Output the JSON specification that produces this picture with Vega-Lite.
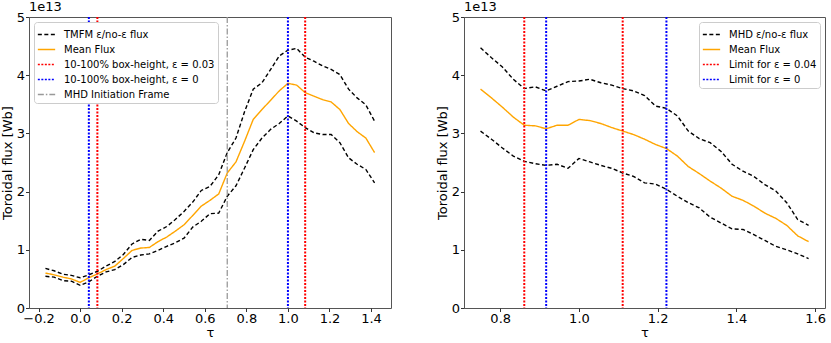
{
  "$schema": "https://vega.github.io/schema/vega-lite/v6.json",
  "padding": {"left": 0, "right": 0, "top": 0, "bottom": 0},
  "spacing": 43,
  "config": {
    "font": "DejaVu Sans",
    "view": {"stroke": "#555555", "strokeWidth": 1},
    "axis": {"grid": false, "domain": false, "tickColor": "#333333", "tickSize": 3.5, "labelFontSize": 13, "titleFontSize": 13, "labelColor": "black", "titleColor": "black", "titleFontWeight": "normal", "labelPadding": 1, "titlePadding": 2},
    "axisX": {"labelPadding": 0.5, "titlePadding": 1},
    "legend": {"fillColor": "white", "strokeColor": "#cccccc", "cornerRadius": 3, "padding": 3, "labelFontSize": 10, "labelColor": "black", "labelLimit": 300, "symbolType": "stroke", "symbolSize": 300, "symbolStrokeWidth": 1.6, "offset": 5, "title": null, "rowPadding": 0, "labelOffset": 8},
    "title": {"fontSize": 13, "fontWeight": "normal", "anchor": "start", "offset": -3, "color": "black", "frame": "group"}
  },
  "datasets": {
    "left_curves": [
      {"tau": -0.167, "flux": 0.68, "series": "TMFM ε/no-ε flux", "curve": "upper"},
      {"tau": -0.125, "flux": 0.64, "series": "TMFM ε/no-ε flux", "curve": "upper"},
      {"tau": -0.083, "flux": 0.58, "series": "TMFM ε/no-ε flux", "curve": "upper"},
      {"tau": -0.042, "flux": 0.56, "series": "TMFM ε/no-ε flux", "curve": "upper"},
      {"tau": 0.0, "flux": 0.52, "series": "TMFM ε/no-ε flux", "curve": "upper"},
      {"tau": 0.042, "flux": 0.57, "series": "TMFM ε/no-ε flux", "curve": "upper"},
      {"tau": 0.083, "flux": 0.63, "series": "TMFM ε/no-ε flux", "curve": "upper"},
      {"tau": 0.125, "flux": 0.72, "series": "TMFM ε/no-ε flux", "curve": "upper"},
      {"tau": 0.167, "flux": 0.8, "series": "TMFM ε/no-ε flux", "curve": "upper"},
      {"tau": 0.208, "flux": 0.92, "series": "TMFM ε/no-ε flux", "curve": "upper"},
      {"tau": 0.25, "flux": 1.1, "series": "TMFM ε/no-ε flux", "curve": "upper"},
      {"tau": 0.292, "flux": 1.18, "series": "TMFM ε/no-ε flux", "curve": "upper"},
      {"tau": 0.333, "flux": 1.16, "series": "TMFM ε/no-ε flux", "curve": "upper"},
      {"tau": 0.375, "flux": 1.32, "series": "TMFM ε/no-ε flux", "curve": "upper"},
      {"tau": 0.417, "flux": 1.4, "series": "TMFM ε/no-ε flux", "curve": "upper"},
      {"tau": 0.458, "flux": 1.52, "series": "TMFM ε/no-ε flux", "curve": "upper"},
      {"tau": 0.5, "flux": 1.66, "series": "TMFM ε/no-ε flux", "curve": "upper"},
      {"tau": 0.542, "flux": 1.82, "series": "TMFM ε/no-ε flux", "curve": "upper"},
      {"tau": 0.583, "flux": 2.02, "series": "TMFM ε/no-ε flux", "curve": "upper"},
      {"tau": 0.625, "flux": 2.09, "series": "TMFM ε/no-ε flux", "curve": "upper"},
      {"tau": 0.667, "flux": 2.29, "series": "TMFM ε/no-ε flux", "curve": "upper"},
      {"tau": 0.708, "flux": 2.67, "series": "TMFM ε/no-ε flux", "curve": "upper"},
      {"tau": 0.75, "flux": 2.92, "series": "TMFM ε/no-ε flux", "curve": "upper"},
      {"tau": 0.792, "flux": 3.38, "series": "TMFM ε/no-ε flux", "curve": "upper"},
      {"tau": 0.833, "flux": 3.76, "series": "TMFM ε/no-ε flux", "curve": "upper"},
      {"tau": 0.875, "flux": 3.87, "series": "TMFM ε/no-ε flux", "curve": "upper"},
      {"tau": 0.917, "flux": 4.1, "series": "TMFM ε/no-ε flux", "curve": "upper"},
      {"tau": 0.958, "flux": 4.33, "series": "TMFM ε/no-ε flux", "curve": "upper"},
      {"tau": 1.0, "flux": 4.43, "series": "TMFM ε/no-ε flux", "curve": "upper"},
      {"tau": 1.042, "flux": 4.46, "series": "TMFM ε/no-ε flux", "curve": "upper"},
      {"tau": 1.083, "flux": 4.31, "series": "TMFM ε/no-ε flux", "curve": "upper"},
      {"tau": 1.125, "flux": 4.24, "series": "TMFM ε/no-ε flux", "curve": "upper"},
      {"tau": 1.167, "flux": 4.16, "series": "TMFM ε/no-ε flux", "curve": "upper"},
      {"tau": 1.208, "flux": 4.1, "series": "TMFM ε/no-ε flux", "curve": "upper"},
      {"tau": 1.25, "flux": 4.01, "series": "TMFM ε/no-ε flux", "curve": "upper"},
      {"tau": 1.292, "flux": 3.76, "series": "TMFM ε/no-ε flux", "curve": "upper"},
      {"tau": 1.333, "flux": 3.61, "series": "TMFM ε/no-ε flux", "curve": "upper"},
      {"tau": 1.375, "flux": 3.49, "series": "TMFM ε/no-ε flux", "curve": "upper"},
      {"tau": 1.417, "flux": 3.21, "series": "TMFM ε/no-ε flux", "curve": "upper"},
      {"tau": -0.167, "flux": 0.6, "series": "Mean Flux", "curve": "mean"},
      {"tau": -0.125, "flux": 0.57, "series": "Mean Flux", "curve": "mean"},
      {"tau": -0.083, "flux": 0.53, "series": "Mean Flux", "curve": "mean"},
      {"tau": -0.042, "flux": 0.5, "series": "Mean Flux", "curve": "mean"},
      {"tau": 0.0, "flux": 0.44, "series": "Mean Flux", "curve": "mean"},
      {"tau": 0.042, "flux": 0.52, "series": "Mean Flux", "curve": "mean"},
      {"tau": 0.083, "flux": 0.585, "series": "Mean Flux", "curve": "mean"},
      {"tau": 0.125, "flux": 0.66, "series": "Mean Flux", "curve": "mean"},
      {"tau": 0.167, "flux": 0.72, "series": "Mean Flux", "curve": "mean"},
      {"tau": 0.208, "flux": 0.85, "series": "Mean Flux", "curve": "mean"},
      {"tau": 0.25, "flux": 0.99, "series": "Mean Flux", "curve": "mean"},
      {"tau": 0.292, "flux": 1.03, "series": "Mean Flux", "curve": "mean"},
      {"tau": 0.333, "flux": 1.04, "series": "Mean Flux", "curve": "mean"},
      {"tau": 0.375, "flux": 1.14, "series": "Mean Flux", "curve": "mean"},
      {"tau": 0.417, "flux": 1.22, "series": "Mean Flux", "curve": "mean"},
      {"tau": 0.458, "flux": 1.32, "series": "Mean Flux", "curve": "mean"},
      {"tau": 0.5, "flux": 1.43, "series": "Mean Flux", "curve": "mean"},
      {"tau": 0.542, "flux": 1.59, "series": "Mean Flux", "curve": "mean"},
      {"tau": 0.583, "flux": 1.75, "series": "Mean Flux", "curve": "mean"},
      {"tau": 0.625, "flux": 1.85, "series": "Mean Flux", "curve": "mean"},
      {"tau": 0.667, "flux": 1.96, "series": "Mean Flux", "curve": "mean"},
      {"tau": 0.708, "flux": 2.32, "series": "Mean Flux", "curve": "mean"},
      {"tau": 0.75, "flux": 2.51, "series": "Mean Flux", "curve": "mean"},
      {"tau": 0.792, "flux": 2.87, "series": "Mean Flux", "curve": "mean"},
      {"tau": 0.833, "flux": 3.24, "series": "Mean Flux", "curve": "mean"},
      {"tau": 0.875, "flux": 3.41, "series": "Mean Flux", "curve": "mean"},
      {"tau": 0.917, "flux": 3.57, "series": "Mean Flux", "curve": "mean"},
      {"tau": 0.958, "flux": 3.73, "series": "Mean Flux", "curve": "mean"},
      {"tau": 1.0, "flux": 3.86, "series": "Mean Flux", "curve": "mean"},
      {"tau": 1.042, "flux": 3.83, "series": "Mean Flux", "curve": "mean"},
      {"tau": 1.083, "flux": 3.7, "series": "Mean Flux", "curve": "mean"},
      {"tau": 1.125, "flux": 3.64, "series": "Mean Flux", "curve": "mean"},
      {"tau": 1.167, "flux": 3.58, "series": "Mean Flux", "curve": "mean"},
      {"tau": 1.208, "flux": 3.54, "series": "Mean Flux", "curve": "mean"},
      {"tau": 1.25, "flux": 3.41, "series": "Mean Flux", "curve": "mean"},
      {"tau": 1.292, "flux": 3.17, "series": "Mean Flux", "curve": "mean"},
      {"tau": 1.333, "flux": 3.03, "series": "Mean Flux", "curve": "mean"},
      {"tau": 1.375, "flux": 2.92, "series": "Mean Flux", "curve": "mean"},
      {"tau": 1.417, "flux": 2.67, "series": "Mean Flux", "curve": "mean"},
      {"tau": -0.167, "flux": 0.545, "series": "TMFM ε/no-ε flux", "curve": "lower"},
      {"tau": -0.125, "flux": 0.53, "series": "TMFM ε/no-ε flux", "curve": "lower"},
      {"tau": -0.083, "flux": 0.47, "series": "TMFM ε/no-ε flux", "curve": "lower"},
      {"tau": -0.042, "flux": 0.46, "series": "TMFM ε/no-ε flux", "curve": "lower"},
      {"tau": 0.0, "flux": 0.39, "series": "TMFM ε/no-ε flux", "curve": "lower"},
      {"tau": 0.042, "flux": 0.45, "series": "TMFM ε/no-ε flux", "curve": "lower"},
      {"tau": 0.083, "flux": 0.545, "series": "TMFM ε/no-ε flux", "curve": "lower"},
      {"tau": 0.125, "flux": 0.62, "series": "TMFM ε/no-ε flux", "curve": "lower"},
      {"tau": 0.167, "flux": 0.66, "series": "TMFM ε/no-ε flux", "curve": "lower"},
      {"tau": 0.208, "flux": 0.745, "series": "TMFM ε/no-ε flux", "curve": "lower"},
      {"tau": 0.25, "flux": 0.87, "series": "TMFM ε/no-ε flux", "curve": "lower"},
      {"tau": 0.292, "flux": 0.91, "series": "TMFM ε/no-ε flux", "curve": "lower"},
      {"tau": 0.333, "flux": 0.93, "series": "TMFM ε/no-ε flux", "curve": "lower"},
      {"tau": 0.375, "flux": 0.99, "series": "TMFM ε/no-ε flux", "curve": "lower"},
      {"tau": 0.417, "flux": 1.06, "series": "TMFM ε/no-ε flux", "curve": "lower"},
      {"tau": 0.458, "flux": 1.12, "series": "TMFM ε/no-ε flux", "curve": "lower"},
      {"tau": 0.5, "flux": 1.2, "series": "TMFM ε/no-ε flux", "curve": "lower"},
      {"tau": 0.542, "flux": 1.39, "series": "TMFM ε/no-ε flux", "curve": "lower"},
      {"tau": 0.583, "flux": 1.49, "series": "TMFM ε/no-ε flux", "curve": "lower"},
      {"tau": 0.625, "flux": 1.62, "series": "TMFM ε/no-ε flux", "curve": "lower"},
      {"tau": 0.667, "flux": 1.63, "series": "TMFM ε/no-ε flux", "curve": "lower"},
      {"tau": 0.708, "flux": 1.92, "series": "TMFM ε/no-ε flux", "curve": "lower"},
      {"tau": 0.75, "flux": 2.1, "series": "TMFM ε/no-ε flux", "curve": "lower"},
      {"tau": 0.792, "flux": 2.41, "series": "TMFM ε/no-ε flux", "curve": "lower"},
      {"tau": 0.833, "flux": 2.72, "series": "TMFM ε/no-ε flux", "curve": "lower"},
      {"tau": 0.875, "flux": 2.92, "series": "TMFM ε/no-ε flux", "curve": "lower"},
      {"tau": 0.917, "flux": 3.07, "series": "TMFM ε/no-ε flux", "curve": "lower"},
      {"tau": 0.958, "flux": 3.17, "series": "TMFM ε/no-ε flux", "curve": "lower"},
      {"tau": 1.0, "flux": 3.3, "series": "TMFM ε/no-ε flux", "curve": "lower"},
      {"tau": 1.042, "flux": 3.21, "series": "TMFM ε/no-ε flux", "curve": "lower"},
      {"tau": 1.083, "flux": 3.1, "series": "TMFM ε/no-ε flux", "curve": "lower"},
      {"tau": 1.125, "flux": 3.01, "series": "TMFM ε/no-ε flux", "curve": "lower"},
      {"tau": 1.167, "flux": 2.98, "series": "TMFM ε/no-ε flux", "curve": "lower"},
      {"tau": 1.208, "flux": 2.98, "series": "TMFM ε/no-ε flux", "curve": "lower"},
      {"tau": 1.25, "flux": 2.84, "series": "TMFM ε/no-ε flux", "curve": "lower"},
      {"tau": 1.292, "flux": 2.58, "series": "TMFM ε/no-ε flux", "curve": "lower"},
      {"tau": 1.333, "flux": 2.47, "series": "TMFM ε/no-ε flux", "curve": "lower"},
      {"tau": 1.375, "flux": 2.38, "series": "TMFM ε/no-ε flux", "curve": "lower"},
      {"tau": 1.417, "flux": 2.15, "series": "TMFM ε/no-ε flux", "curve": "lower"}
    ],
    "left_vlines": [
      {"tau": 0.042, "series": "10-100% box-height, ε = 0"},
      {"tau": 0.083, "series": "10-100% box-height, ε = 0.03"},
      {"tau": 1.0, "series": "10-100% box-height, ε = 0"},
      {"tau": 1.083, "series": "10-100% box-height, ε = 0.03"},
      {"tau": 0.708, "series": "MHD Initiation Frame"}
    ],
    "right_curves": [
      {"tau": 0.75, "flux": 4.47, "series": "MHD ε/no-ε flux", "curve": "upper"},
      {"tau": 0.7778, "flux": 4.3, "series": "MHD ε/no-ε flux", "curve": "upper"},
      {"tau": 0.8056, "flux": 4.14, "series": "MHD ε/no-ε flux", "curve": "upper"},
      {"tau": 0.8333, "flux": 3.93, "series": "MHD ε/no-ε flux", "curve": "upper"},
      {"tau": 0.8611, "flux": 3.77, "series": "MHD ε/no-ε flux", "curve": "upper"},
      {"tau": 0.8889, "flux": 3.8, "series": "MHD ε/no-ε flux", "curve": "upper"},
      {"tau": 0.9167, "flux": 3.73, "series": "MHD ε/no-ε flux", "curve": "upper"},
      {"tau": 0.9444, "flux": 3.81, "series": "MHD ε/no-ε flux", "curve": "upper"},
      {"tau": 0.9722, "flux": 3.89, "series": "MHD ε/no-ε flux", "curve": "upper"},
      {"tau": 1.0, "flux": 3.9, "series": "MHD ε/no-ε flux", "curve": "upper"},
      {"tau": 1.0278, "flux": 3.93, "series": "MHD ε/no-ε flux", "curve": "upper"},
      {"tau": 1.0556, "flux": 3.87, "series": "MHD ε/no-ε flux", "curve": "upper"},
      {"tau": 1.0833, "flux": 3.83, "series": "MHD ε/no-ε flux", "curve": "upper"},
      {"tau": 1.1111, "flux": 3.77, "series": "MHD ε/no-ε flux", "curve": "upper"},
      {"tau": 1.1389, "flux": 3.73, "series": "MHD ε/no-ε flux", "curve": "upper"},
      {"tau": 1.1667, "flux": 3.65, "series": "MHD ε/no-ε flux", "curve": "upper"},
      {"tau": 1.1944, "flux": 3.47, "series": "MHD ε/no-ε flux", "curve": "upper"},
      {"tau": 1.2222, "flux": 3.43, "series": "MHD ε/no-ε flux", "curve": "upper"},
      {"tau": 1.25, "flux": 3.3, "series": "MHD ε/no-ε flux", "curve": "upper"},
      {"tau": 1.2778, "flux": 3.04, "series": "MHD ε/no-ε flux", "curve": "upper"},
      {"tau": 1.3056, "flux": 2.91, "series": "MHD ε/no-ε flux", "curve": "upper"},
      {"tau": 1.3333, "flux": 2.84, "series": "MHD ε/no-ε flux", "curve": "upper"},
      {"tau": 1.3611, "flux": 2.69, "series": "MHD ε/no-ε flux", "curve": "upper"},
      {"tau": 1.3889, "flux": 2.47, "series": "MHD ε/no-ε flux", "curve": "upper"},
      {"tau": 1.4167, "flux": 2.35, "series": "MHD ε/no-ε flux", "curve": "upper"},
      {"tau": 1.4444, "flux": 2.26, "series": "MHD ε/no-ε flux", "curve": "upper"},
      {"tau": 1.4722, "flux": 2.12, "series": "MHD ε/no-ε flux", "curve": "upper"},
      {"tau": 1.5, "flux": 2.01, "series": "MHD ε/no-ε flux", "curve": "upper"},
      {"tau": 1.5278, "flux": 1.81, "series": "MHD ε/no-ε flux", "curve": "upper"},
      {"tau": 1.5556, "flux": 1.52, "series": "MHD ε/no-ε flux", "curve": "upper"},
      {"tau": 1.5833, "flux": 1.42, "series": "MHD ε/no-ε flux", "curve": "upper"},
      {"tau": 0.75, "flux": 3.76, "series": "Mean Flux", "curve": "mean"},
      {"tau": 0.7778, "flux": 3.61, "series": "Mean Flux", "curve": "mean"},
      {"tau": 0.8056, "flux": 3.45, "series": "Mean Flux", "curve": "mean"},
      {"tau": 0.8333, "flux": 3.28, "series": "Mean Flux", "curve": "mean"},
      {"tau": 0.8611, "flux": 3.14, "series": "Mean Flux", "curve": "mean"},
      {"tau": 0.8889, "flux": 3.13, "series": "Mean Flux", "curve": "mean"},
      {"tau": 0.9167, "flux": 3.08, "series": "Mean Flux", "curve": "mean"},
      {"tau": 0.9444, "flux": 3.14, "series": "Mean Flux", "curve": "mean"},
      {"tau": 0.9722, "flux": 3.14, "series": "Mean Flux", "curve": "mean"},
      {"tau": 1.0, "flux": 3.24, "series": "Mean Flux", "curve": "mean"},
      {"tau": 1.0278, "flux": 3.22, "series": "Mean Flux", "curve": "mean"},
      {"tau": 1.0556, "flux": 3.17, "series": "Mean Flux", "curve": "mean"},
      {"tau": 1.0833, "flux": 3.1, "series": "Mean Flux", "curve": "mean"},
      {"tau": 1.1111, "flux": 3.04, "series": "Mean Flux", "curve": "mean"},
      {"tau": 1.1389, "flux": 2.98, "series": "Mean Flux", "curve": "mean"},
      {"tau": 1.1667, "flux": 2.9, "series": "Mean Flux", "curve": "mean"},
      {"tau": 1.1944, "flux": 2.81, "series": "Mean Flux", "curve": "mean"},
      {"tau": 1.2222, "flux": 2.74, "series": "Mean Flux", "curve": "mean"},
      {"tau": 1.25, "flux": 2.61, "series": "Mean Flux", "curve": "mean"},
      {"tau": 1.2778, "flux": 2.43, "series": "Mean Flux", "curve": "mean"},
      {"tau": 1.3056, "flux": 2.31, "series": "Mean Flux", "curve": "mean"},
      {"tau": 1.3333, "flux": 2.18, "series": "Mean Flux", "curve": "mean"},
      {"tau": 1.3611, "flux": 2.06, "series": "Mean Flux", "curve": "mean"},
      {"tau": 1.3889, "flux": 1.92, "series": "Mean Flux", "curve": "mean"},
      {"tau": 1.4167, "flux": 1.85, "series": "Mean Flux", "curve": "mean"},
      {"tau": 1.4444, "flux": 1.75, "series": "Mean Flux", "curve": "mean"},
      {"tau": 1.4722, "flux": 1.63, "series": "Mean Flux", "curve": "mean"},
      {"tau": 1.5, "flux": 1.54, "series": "Mean Flux", "curve": "mean"},
      {"tau": 1.5278, "flux": 1.42, "series": "Mean Flux", "curve": "mean"},
      {"tau": 1.5556, "flux": 1.24, "series": "Mean Flux", "curve": "mean"},
      {"tau": 1.5833, "flux": 1.14, "series": "Mean Flux", "curve": "mean"},
      {"tau": 0.75, "flux": 3.04, "series": "MHD ε/no-ε flux", "curve": "lower"},
      {"tau": 0.7778, "flux": 2.9, "series": "MHD ε/no-ε flux", "curve": "lower"},
      {"tau": 0.8056, "flux": 2.75, "series": "MHD ε/no-ε flux", "curve": "lower"},
      {"tau": 0.8333, "flux": 2.61, "series": "MHD ε/no-ε flux", "curve": "lower"},
      {"tau": 0.8611, "flux": 2.52, "series": "MHD ε/no-ε flux", "curve": "lower"},
      {"tau": 0.8889, "flux": 2.48, "series": "MHD ε/no-ε flux", "curve": "lower"},
      {"tau": 0.9167, "flux": 2.45, "series": "MHD ε/no-ε flux", "curve": "lower"},
      {"tau": 0.9444, "flux": 2.47, "series": "MHD ε/no-ε flux", "curve": "lower"},
      {"tau": 0.9722, "flux": 2.4, "series": "MHD ε/no-ε flux", "curve": "lower"},
      {"tau": 1.0, "flux": 2.57, "series": "MHD ε/no-ε flux", "curve": "lower"},
      {"tau": 1.0278, "flux": 2.51, "series": "MHD ε/no-ε flux", "curve": "lower"},
      {"tau": 1.0556, "flux": 2.45, "series": "MHD ε/no-ε flux", "curve": "lower"},
      {"tau": 1.0833, "flux": 2.4, "series": "MHD ε/no-ε flux", "curve": "lower"},
      {"tau": 1.1111, "flux": 2.32, "series": "MHD ε/no-ε flux", "curve": "lower"},
      {"tau": 1.1389, "flux": 2.26, "series": "MHD ε/no-ε flux", "curve": "lower"},
      {"tau": 1.1667, "flux": 2.15, "series": "MHD ε/no-ε flux", "curve": "lower"},
      {"tau": 1.1944, "flux": 2.13, "series": "MHD ε/no-ε flux", "curve": "lower"},
      {"tau": 1.2222, "flux": 2.04, "series": "MHD ε/no-ε flux", "curve": "lower"},
      {"tau": 1.25, "flux": 1.92, "series": "MHD ε/no-ε flux", "curve": "lower"},
      {"tau": 1.2778, "flux": 1.81, "series": "MHD ε/no-ε flux", "curve": "lower"},
      {"tau": 1.3056, "flux": 1.72, "series": "MHD ε/no-ε flux", "curve": "lower"},
      {"tau": 1.3333, "flux": 1.56, "series": "MHD ε/no-ε flux", "curve": "lower"},
      {"tau": 1.3611, "flux": 1.46, "series": "MHD ε/no-ε flux", "curve": "lower"},
      {"tau": 1.3889, "flux": 1.36, "series": "MHD ε/no-ε flux", "curve": "lower"},
      {"tau": 1.4167, "flux": 1.35, "series": "MHD ε/no-ε flux", "curve": "lower"},
      {"tau": 1.4444, "flux": 1.26, "series": "MHD ε/no-ε flux", "curve": "lower"},
      {"tau": 1.4722, "flux": 1.16, "series": "MHD ε/no-ε flux", "curve": "lower"},
      {"tau": 1.5, "flux": 1.06, "series": "MHD ε/no-ε flux", "curve": "lower"},
      {"tau": 1.5278, "flux": 1.0, "series": "MHD ε/no-ε flux", "curve": "lower"},
      {"tau": 1.5556, "flux": 0.93, "series": "MHD ε/no-ε flux", "curve": "lower"},
      {"tau": 1.5833, "flux": 0.85, "series": "MHD ε/no-ε flux", "curve": "lower"}
    ],
    "right_vlines": [
      {"tau": 0.8611, "series": "Limit for ε = 0.04"},
      {"tau": 1.1111, "series": "Limit for ε = 0.04"},
      {"tau": 0.9167, "series": "Limit for ε = 0"},
      {"tau": 1.2222, "series": "Limit for ε = 0"}
    ]
  },
  "hconcat": [
    {
      "width": 362,
      "height": 291,
      "title": {"text": "1e13"},
      "encoding": {
        "x": {"field": "tau", "type": "quantitative", "scale": {"domain": [-0.246, 1.496], "nice": false, "zero": false}, "axis": {"values": [-0.2, 0, 0.2, 0.4, 0.6, 0.8, 1.0, 1.2, 1.4], "format": ".1f", "title": "τ"}},
        "color": {"field": "series", "type": "nominal", "scale": {"domain": ["TMFM ε/no-ε flux", "Mean Flux", "10-100% box-height, ε = 0.03", "10-100% box-height, ε = 0", "MHD Initiation Frame"], "range": ["black", "orange", "red", "blue", "#999999"]}, "legend": {"orient": "top-left", "title": null}},
        "strokeDash": {"field": "series", "type": "nominal", "scale": {"domain": ["TMFM ε/no-ε flux", "Mean Flux", "10-100% box-height, ε = 0.03", "10-100% box-height, ε = 0", "MHD Initiation Frame"], "range": [[4, 2.5], [1, 0], [2, 1.5], [2, 1.5], [6, 2, 1.5, 2]]}, "legend": {"orient": "top-left", "title": null}}
      },
      "layer": [
        {
          "data": {"name": "left_curves"},
          "mark": {"type": "line", "strokeWidth": 1.4},
          "encoding": {
            "y": {"field": "flux", "type": "quantitative", "scale": {"domain": [0, 5], "nice": false}, "axis": {"values": [0, 1, 2, 3, 4, 5], "format": "d", "title": "Toroidal flux [Wb]"}},
            "detail": {"field": "curve"}
          }
        },
        {
          "data": {"name": "left_vlines"},
          "transform": [{"filter": "datum.series != 'MHD Initiation Frame'"}],
          "mark": {"type": "rule", "strokeWidth": 2},
          "encoding": {}
        },
        {
          "data": {"name": "left_vlines"},
          "transform": [{"filter": "datum.series == 'MHD Initiation Frame'"}],
          "mark": {"type": "rule", "strokeWidth": 1.3},
          "encoding": {}
        }
      ]
    },
    {
      "width": 361,
      "height": 291,
      "title": {"text": "1e13"},
      "encoding": {
        "x": {"field": "tau", "type": "quantitative", "scale": {"domain": [0.708, 1.625], "nice": false, "zero": false}, "axis": {"values": [0.8, 1.0, 1.2, 1.4, 1.6], "format": ".1f", "title": "τ"}},
        "color": {"field": "series", "type": "nominal", "scale": {"domain": ["MHD ε/no-ε flux", "Mean Flux", "Limit for ε = 0.04", "Limit for ε = 0"], "range": ["black", "orange", "red", "blue"]}, "legend": {"orient": "top-right", "title": null}},
        "strokeDash": {"field": "series", "type": "nominal", "scale": {"domain": ["MHD ε/no-ε flux", "Mean Flux", "Limit for ε = 0.04", "Limit for ε = 0"], "range": [[4, 2.5], [1, 0], [2, 1.5], [2, 1.5]]}, "legend": {"orient": "top-right", "title": null}}
      },
      "layer": [
        {
          "data": {"name": "right_curves"},
          "mark": {"type": "line", "strokeWidth": 1.4},
          "encoding": {
            "y": {"field": "flux", "type": "quantitative", "scale": {"domain": [0, 5], "nice": false}, "axis": {"values": [0, 1, 2, 3, 4, 5], "format": "d", "title": "Toroidal flux [Wb]"}},
            "detail": {"field": "curve"}
          }
        },
        {
          "data": {"name": "right_vlines"},
          "mark": {"type": "rule", "strokeWidth": 2},
          "encoding": {}
        }
      ]
    }
  ],
  "resolve": {"scale": {"color": "independent", "strokeDash": "independent", "x": "independent", "y": "independent"}}
}
